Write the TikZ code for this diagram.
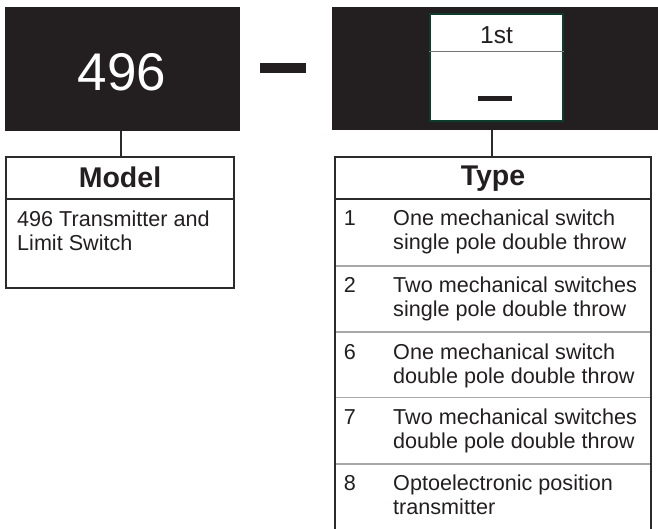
\documentclass[tikz,border=0pt]{standalone}
\usepackage{fontspec}
\setmainfont{Liberation Sans}
\definecolor{ink}{HTML}{231F20}
\definecolor{edge}{HTML}{2B2B2B}
\definecolor{sep}{HTML}{A8A8A8}
\definecolor{grn}{HTML}{0D3B2C}
\begin{document}
\begin{tikzpicture}[x=1pt,y=-1pt,
  blk/.style={fill=ink,draw=none,inner sep=0pt},
  body/.style={font=\fontsize{21.6}{24}\selectfont,text=ink,inner sep=0pt},
  head/.style={font=\fontsize{28.5}{32}\selectfont\bfseries,text=ink,inner sep=0pt},
  frame/.style={draw=edge,line width=2pt},
  rowline/.style={draw=sep,line width=1.1pt},
  conn/.style={draw=edge,line width=2pt}]
\useasboundingbox (0,0) rectangle (658,529);
\fill[white] (0,0) rectangle (658,529);
% top left black box
\node[blk,minimum width=235pt,minimum height=124pt] (blk1) at (122.5,69) {};
\node[text=white,inner sep=0pt,font=\fontsize{53}{60}\selectfont] (num) at (122,72) {496};
% dash
\node[blk,minimum width=46pt,minimum height=10pt] (dash) at (283,68) {};
% top right black box
\node[blk,minimum width=326pt,minimum height=123pt] (blk2) at (495,68.5) {};
\node[fill=white,draw=grn,line width=1.6pt,minimum width=133pt,minimum height=107pt,inner sep=0pt] (inner) at (496.5,67.5) {};
\draw[draw=sep!70!black,line width=1pt] (inner.west |- 0,52) -- (inner.east |- 0,52);
\node[body,font=\fontsize{24.5}{28}\selectfont,anchor=base] (first) at (496.5,44) {1st};
\node[blk,minimum width=34pt,minimum height=5pt] (sdash) at (495,98.5) {};
% model box
\node[frame,minimum width=228pt,minimum height=131pt,inner sep=0pt] (model) at (120,222.5) {};
\draw[frame] (model.west |- 0,199) -- (model.east |- 0,199);
\node[head,anchor=base] (modelt) at (120,188) {Model};
\node[body,anchor=base west] (m1) at (17,227) {496 Transmitter and};
\node[body,anchor=base west] (m2) at (17,251) {Limit Switch};
\draw[conn] (blk1.south -| 121,0) -- (model.north -| 121,0);
% type table
\coordinate (ttl) at (335,157);
\coordinate (ttr) at (651,157);
\coordinate (tbl) at (335,531);
\coordinate (tbr) at (651,531);
\draw[frame] (tbl) -- (ttl) -- (ttr) -- (tbr);
\draw[frame] (335,199) -- (651,199);
\node[head,anchor=base] (typet) at (493,186) {Type};
\coordinate (c2) at (492,130);
\draw[conn] (c2) -- (c2 |- ttl);
\foreach \y in {266,332,397.5,464}{\draw[rowline] (336,\y) -- (650,\y);}
% rows
\node[body,anchor=base] (n1) at (350,226) {1};
\node[body,anchor=base west] (r1a) at (393,226) {One mechanical switch};
\node[body,anchor=base west] (r1b) at (393,250) {single pole double throw};
\node[body,anchor=base] (n2) at (350,292.5) {2};
\node[body,anchor=base west] (r2a) at (393,292.5) {Two mechanical switches};
\node[body,anchor=base west] (r2b) at (393,316.5) {single pole double throw};
\node[body,anchor=base] (n3) at (350,359) {6};
\node[body,anchor=base west] (r3a) at (393,359) {One mechanical switch};
\node[body,anchor=base west] (r3b) at (393,383) {double pole double throw};
\node[body,anchor=base] (n4) at (350,424.5) {7};
\node[body,anchor=base west] (r4a) at (393,424.5) {Two mechanical switches};
\node[body,anchor=base west] (r4b) at (393,448.5) {double pole double throw};
\node[body,anchor=base] (n5) at (350,490.5) {8};
\node[body,anchor=base west] (r5a) at (393,490.5) {Optoelectronic position};
\node[body,anchor=base west] (r5b) at (393,514.5) {transmitter};
\end{tikzpicture}
\end{document}
